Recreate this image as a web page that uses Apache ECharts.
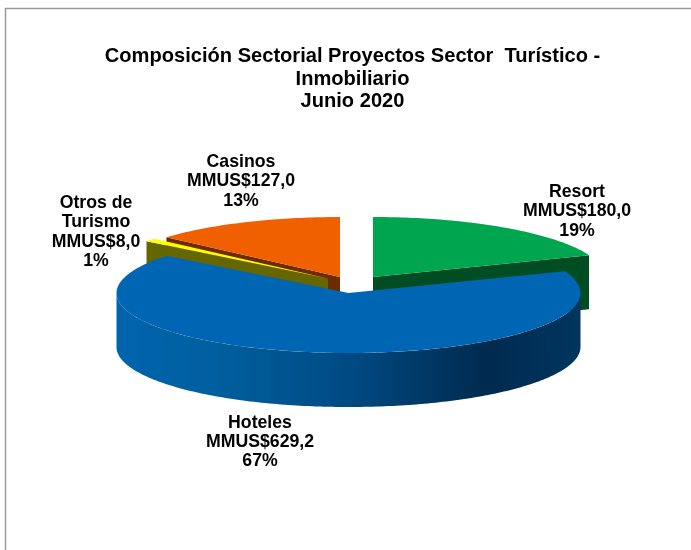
<!DOCTYPE html>
<html>
<head>
<meta charset="utf-8">
<style>html,body{margin:0;padding:0;background:#fff}#c{width:691px;height:550px}</style>
<script src="https://cdn.jsdelivr.net/npm/echarts@6/dist/echarts.min.js"></script>
</head>
<body>
<div id="c"></div>
<script>
var categories = ['Resort', 'Hoteles', 'Otros de\nTurismo', 'Casinos'];
var seriesValues = [180.0, 629.2, 8.0, 127.0];
var titleLines = ['Composición Sectorial Proyectos Sector  Turístico -', 'Inmobiliario', 'Junio 2020'];

var total = seriesValues.reduce(function (a, b) { return a + b; }, 0);
var RX = 232, RY = 60, DEPTH = 54;
var FONT = 'Liberation Sans';
var looks = [
  { cx: 373, cy: 277, top: '#00a64f', cut: '#004d24', lx: 577, ly: 211.5, z: 1 },
  { cx: 348.5, cy: 293, top: '#0066b3', cut: '#0066b3', lx: 260, ly: 442, z: 5 },
  { cx: 328, cy: 278.5, top: '#ffff00', cut: '#666600', lx: 96, ly: 232, z: 3 },
  { cx: 340, cy: 277, top: '#f06000', cut: '#6e2b00', lx: 241, ly: 181.5, z: 2 }
];
var wallGradient = {
  type: 'linear', x: 0, y: 0, x2: 1, y2: 0,
  colorStops: [
    { offset: 0, color: '#0064ae' }, { offset: 0.2, color: '#00609f' },
    { offset: 0.5, color: '#004a83' }, { offset: 0.8, color: '#002a4e' },
    { offset: 1, color: '#00365f' }
  ]
};

function pt(l, deg, dy) {
  var r = deg * Math.PI / 180;
  return [l.cx + RX * Math.sin(r), l.cy - RY * Math.cos(r) + (dy || 0)];
}
function arc(l, a0, a1, dy) {
  var n = Math.max(2, Math.ceil(Math.abs(a1 - a0))), out = [];
  for (var i = 0; i <= n; i++) out.push(pt(l, a0 + (a1 - a0) * i / n, dy));
  return out;
}
function poly(points, fill, z) {
  return { type: 'polygon', shape: { points: points }, style: { fill: fill }, z2: z };
}
function renderItem(params, api) {
  var i = params.dataIndex, l = looks[i], v = api.value(0);
  var before = 0;
  for (var k = 0; k < i; k++) before += seriesValues[k];
  var a0 = before / total * 360, a1 = (before + v) / total * 360;
  var center = [l.cx, l.cy], ch = [];
  if (i === 1) {
    ch.push(poly(arc(l, 270, 90, 0).concat(arc(l, 90, 270, DEPTH)), wallGradient, l.z));
  } else {
    var edgeDeg = i === 0 ? a1 : a0;
    var o = pt(l, edgeDeg);
    ch.push(poly([center, o, [o[0], o[1] + DEPTH], [l.cx, l.cy + DEPTH]], l.cut, l.z));
  }
  ch.push(poly([center].concat(arc(l, a0, a1)), l.top, l.z + 0.5));
  ch.push({
    type: 'text', z2: 20,
    style: {
      x: l.lx, y: l.ly, text: categories[i] + '\nMMUS$' + v.toFixed(1).replace('.', ',') + '\n' + Math.round(v / total * 100) + '%',
      align: 'center', verticalAlign: 'middle', fill: '#000', font: 'bold 17.7px "' + FONT + '"', lineHeight: 19.3
    }
  });
  return { type: 'group', children: ch };
}

var chart = echarts.init(document.getElementById('c'), null, { renderer: 'canvas' });
chart.setOption({
  animation: false,
  backgroundColor: '#ffffff',
  title: {
    text: titleLines.join('\n'), left: 347.5, top: 40, textAlign: 'center',
    textStyle: { fontFamily: FONT, fontWeight: 'bold', fontSize: 20.1, lineHeight: 22.7, color: '#000' }
  },
  graphic: [{ type: 'rect', silent: true, shape: { x: 5.5, y: 8.5, width: 700, height: 600 }, style: { fill: 'none', stroke: '#9a9a9a', lineWidth: 1.5 } }],
  series: [{
    type: 'custom', coordinateSystem: 'none', silent: true, renderItem: renderItem,
    data: seriesValues.map(function (v, i) { return { name: categories[i], value: [v] }; })
  }]
});
</script>
</body>
</html>
